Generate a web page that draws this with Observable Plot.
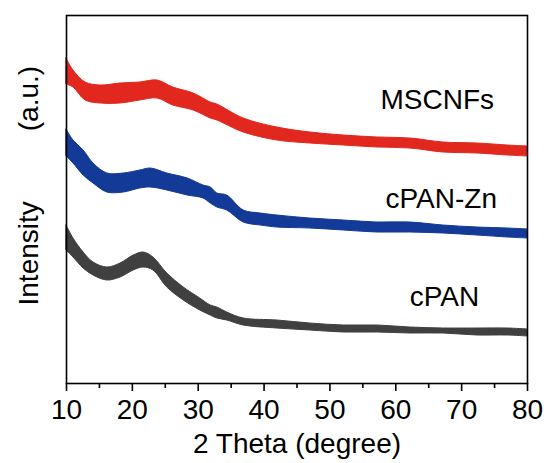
<!DOCTYPE html>
<html><head><meta charset="utf-8">
<script src="https://cdn.jsdelivr.net/npm/d3@7"></script>
<script src="https://cdn.jsdelivr.net/npm/@observablehq/plot@0.6"></script>
<style>body{margin:0;background:#fff} svg{display:block}</style>
</head><body><div id="chart"></div>
<script>
// 2θ positions and upper/lower envelope of each noisy trace (arbitrary intensity units)
const redTheta = [10, 11.06, 12.9, 15.2, 18.2, 21.2, 23.8, 26.2, 29.3, 31.9, 32.9, 36.9, 42.0, 47.0, 52.1, 57.2, 62.2, 67.2, 72.4, 77.0, 80];
const redHi = [325, 313, 301, 298, 300, 301, 303, 296, 290, 281, 279, 265, 256, 251, 248, 246, 245, 241, 240, 238, 237];
const redLo = [299, 296, 283, 280, 280, 283, 285, 278, 273, 265, 263, 251, 243, 240, 238, 236, 235, 231, 230, 228, 227];

const blueTheta = [10, 11.06, 12.6, 14.1, 16.2, 18.7, 21.2, 22.8, 25.3, 28.4, 30.8, 31.9, 32.9, 34.4, 36.9, 39.5, 42.0, 47.0, 52.1, 57.2, 62.2, 67.2, 72.4, 77.0, 80];
const blueHi = [254, 243, 233, 220, 210, 210, 213, 215, 210, 205, 198, 196, 190, 188, 173, 170, 168, 165, 163, 161, 161, 158, 156, 155, 154];
const blueLo = [227, 220, 208, 200, 191, 191, 195, 196, 193, 188, 185, 180, 176, 173, 161, 158, 156, 155, 153, 151, 151, 150, 148, 146, 145];

const grayTheta = [10, 11.06, 12.6, 14.1, 16.2, 18.2, 20.2, 21.7, 23.2, 25.3, 27.8, 30.3, 31.9, 32.9, 34.4, 36.9, 42.0, 47.0, 52.1, 57.2, 62.2, 67.2, 72.4, 77.0, 80];
const grayHi = [158, 145, 131, 121, 116, 120, 128, 131, 126, 110, 96, 85, 78, 76, 71, 65, 63, 60, 58, 58, 56, 55, 55, 55, 54];
const grayLo = [133, 126, 115, 108, 103, 106, 113, 116, 113, 96, 83, 73, 68, 65, 63, 58, 55, 53, 51, 51, 50, 50, 48, 48, 47];

const seriesNames = ["MSCNFs", "cPAN-Zn", "cPAN"];
const seriesColors = ["#e2271f", "#143a98", "#404040"];
const labelTheta = [66.3, 66.9, 67.4];
const labelIntensity = [275, 176, 78];

const majorTicks = [10, 20, 30, 40, 50, 60, 70, 80];
const minorTicks = [15, 25, 35, 45, 55, 65, 75];
const xTitle = "2 Theta (degree)";
const yTitle = "Intensity" + "\u00a0".repeat(9) + "(a.u.)";

const toRows = (t, hi, lo, s) => t.map((v, i) => ({t: v, hi: hi[i], lo: lo[i], s}));
const rows = [
  ...toRows(redTheta, redHi, redLo, seriesNames[0]),
  ...toRows(blueTheta, blueHi, blueLo, seriesNames[1]),
  ...toRows(grayTheta, grayHi, grayLo, seriesNames[2])
];
const labels = seriesNames.map((s, i) => ({s, t: labelTheta[i], y: labelIntensity[i]}));

const plot = Plot.plot({
  width: 547, height: 463,
  marginLeft: 66, marginRight: 20, marginTop: 15, marginBottom: 80,
  style: {fontFamily: "'Liberation Sans', Arial, sans-serif", background: "white", color: "black"},
  x: {domain: [10, 80]},
  y: {domain: [0, 368], axis: null},
  color: {domain: seriesNames, range: seriesColors},
  marks: [
    Plot.areaY(rows, {x: "t", y1: "lo", y2: "hi", z: "s", fill: "s", stroke: "s", strokeWidth: 1, curve: "catmull-rom"}),
    Plot.frame({stroke: "black", strokeWidth: 1.6}),
    Plot.axisX(majorTicks, {tickSize: 8, tickPadding: 8, fontSize: 28, strokeWidth: 1.6, label: null, tickFormat: d => String(d)}),
    Plot.axisX(minorTicks, {tickSize: 5, strokeWidth: 1.6, label: null, tickFormat: () => ""}),
    Plot.text(labels, {x: "t", y: "y", text: "s", fontSize: 28, textAnchor: "middle", lineAnchor: "bottom", fill: "black"}),
    Plot.text([xTitle], {frameAnchor: "bottom", dy: 50, lineAnchor: "top", fontSize: 28, fill: "black"}),
    Plot.text([yTitle], {frameAnchor: "left", textAnchor: "start", dx: -37, dy: 106, rotate: -90, fontSize: 28, fill: "black"})
  ]
});
document.getElementById("chart").appendChild(plot);
</script>
</body></html>
